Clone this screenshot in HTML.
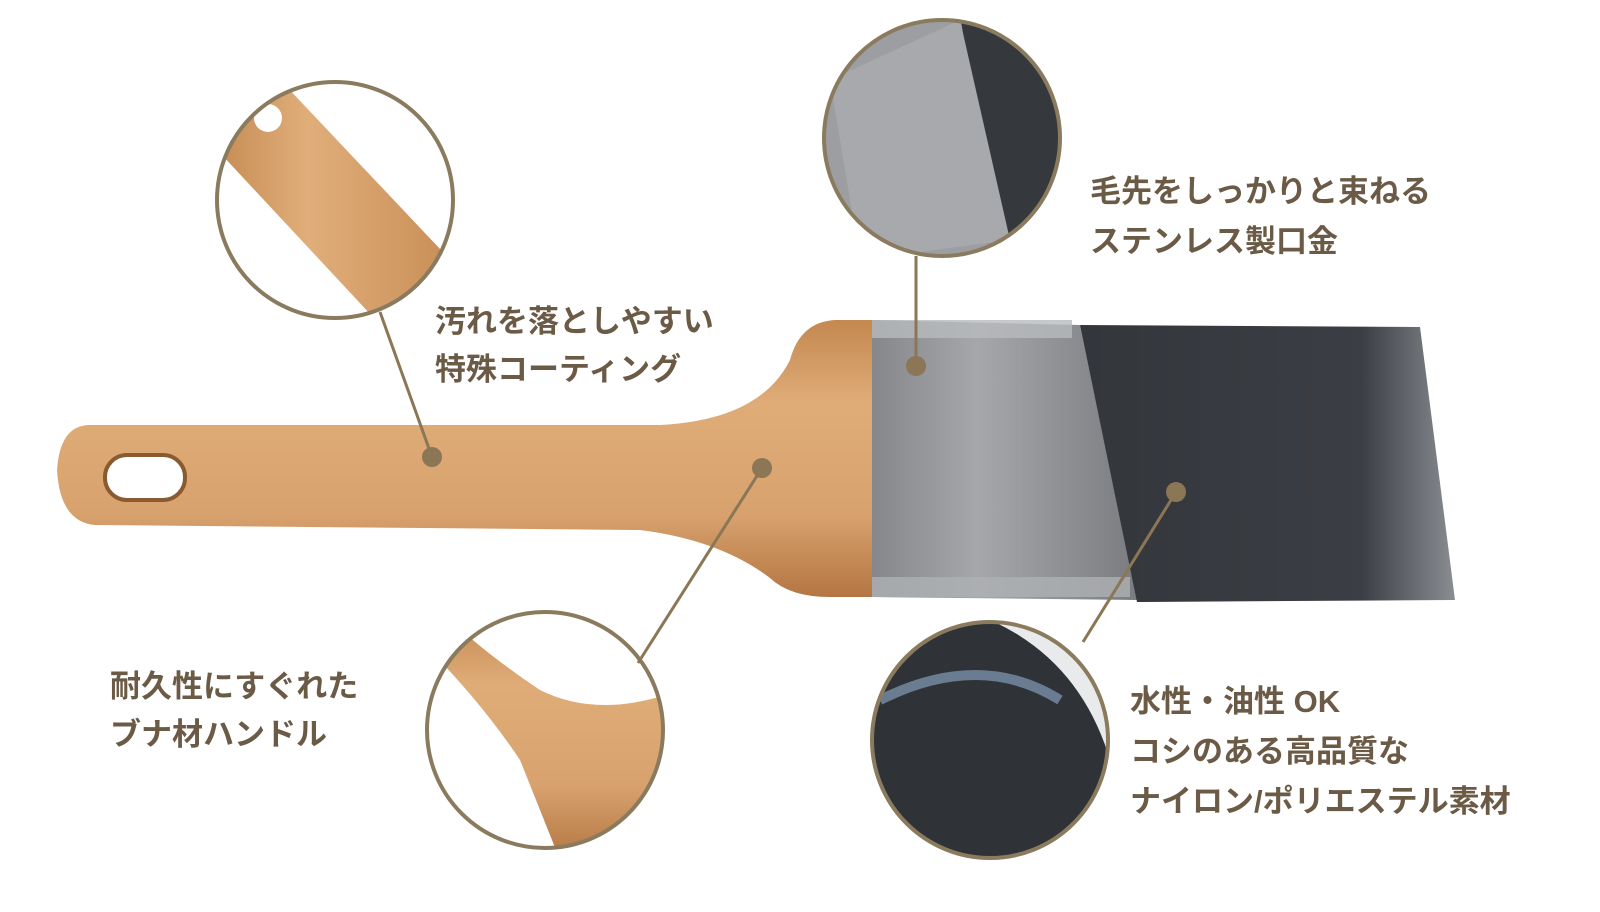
<!DOCTYPE html>
<html><head><meta charset="utf-8"><style>
html,body{margin:0;padding:0;background:#fff;}
svg{display:block;}
text{font-family:"Liberation Sans","Noto Sans CJK JP",sans-serif;font-weight:bold;fill:#6b5a45;font-size:31px;}
</style></head><body>
<svg width="1600" height="912" viewBox="0 0 1600 912" xmlns="http://www.w3.org/2000/svg">
<defs>
<linearGradient id="wood" x1="0" y1="0" x2="0" y2="1">
<stop offset="0" stop-color="#c48850"/><stop offset="0.3" stop-color="#dfac78"/><stop offset="0.7" stop-color="#d8a26e"/><stop offset="1" stop-color="#b47642"/>
</linearGradient>
<linearGradient id="wood2" x1="0" y1="0" x2="1" y2="0">
<stop offset="0" stop-color="#c48850"/><stop offset="0.4" stop-color="#e0ae7a"/><stop offset="1" stop-color="#c88c55"/>
</linearGradient>
<linearGradient id="metal" x1="0" y1="0" x2="1" y2="0">
<stop offset="0" stop-color="#85878b"/><stop offset="0.4" stop-color="#a5a7aa"/><stop offset="1" stop-color="#7a7c80"/>
</linearGradient>
<linearGradient id="bristle" x1="0" y1="0" x2="1" y2="0">
<stop offset="0" stop-color="#33363b"/><stop offset="0.75" stop-color="#3b3e44"/><stop offset="1" stop-color="#8a8d92"/>
</linearGradient>
<clipPath id="c1"><circle cx="335" cy="200" r="118"/></clipPath>
<clipPath id="c2"><circle cx="942" cy="138" r="118"/></clipPath>
<clipPath id="c3"><circle cx="545" cy="730" r="118"/></clipPath>
<clipPath id="c4"><circle cx="990" cy="740" r="118"/></clipPath>
</defs>

<path d="M90 425 Q60 425 57 470 Q60 522 95 525 L640 530 Q720 540 770 578 Q790 597 830 597 L875 597 L875 320 L835 320 Q800 322 790 360 Q760 420 660 425 Z" fill="url(#wood)"/>
<rect x="105" y="455" width="80" height="45" rx="22" fill="#fff" stroke="#8a5a30" stroke-width="4"/>
<path d="M872 320 L1080 325 L1137 600 L872 597 Z" fill="url(#metal)"/>
<rect x="872" y="320" width="200" height="18" fill="#b8babd" opacity="0.8"/>
<rect x="872" y="577" width="258" height="20" fill="#aeb0b3" opacity="0.8"/>
<path d="M1080 325 L1420 327 L1455 600 L1137 602 Z" fill="url(#bristle)"/>

<g clip-path="url(#c1)">
<rect x="200" y="70" width="280" height="260" fill="#fff"/>
<path d="M208 140 L285 85 L458 268 L385 330 Z" fill="url(#wood2)"/>
<circle cx="268" cy="118" r="14" fill="#fff"/>
</g>
<circle cx="335" cy="200" r="118" fill="none" stroke="#8b7b5e" stroke-width="4"/>

<g clip-path="url(#c2)">
<rect x="820" y="15" width="250" height="250" fill="#9c9ea2"/>
<path d="M960 15 L1070 15 L1070 260 L1000 260 Z" fill="#35383d"/>
<path d="M830 80 L960 20 L1010 240 L860 260 Z" fill="#a7a9ac"/>
</g>
<circle cx="942" cy="138" r="118" fill="none" stroke="#8b7b5e" stroke-width="4"/>

<g clip-path="url(#c3)">
<rect x="420" y="605" width="250" height="250" fill="#fff"/>
<path d="M420 640 Q480 700 520 760 L560 860 L680 860 L680 690 Q600 720 540 690 Q480 650 440 610 Z" fill="url(#wood)"/>
</g>
<circle cx="545" cy="730" r="118" fill="none" stroke="#8b7b5e" stroke-width="4"/>

<g clip-path="url(#c4)">
<rect x="870" y="620" width="240" height="240" fill="#2f3237"/>
<path d="M990 620 Q1080 660 1110 760 L1110 620 Z" fill="#e9eaec"/>
<path d="M880 700 Q980 650 1060 700" stroke="#6a7c92" stroke-width="10" fill="none"/>
</g>
<circle cx="990" cy="740" r="118" fill="none" stroke="#8b7b5e" stroke-width="4"/>

<g stroke="#8b7656" stroke-width="3" fill="#8b7656">
<line x1="432" y1="457" x2="380" y2="312"/>
<line x1="916" y1="366" x2="916" y2="256"/>
<line x1="762" y1="468" x2="638" y2="663"/>
<line x1="1176" y1="492" x2="1083" y2="642"/>
<circle cx="432" cy="457" r="10" stroke="none"/>
<circle cx="916" cy="366" r="10" stroke="none"/>
<circle cx="762" cy="468" r="10" stroke="none"/>
<circle cx="1176" cy="492" r="10" stroke="none"/>
</g>

<text x="435" y="332">汚れを落としやすい</text>
<text x="435" y="380">特殊コーティング</text>
<text x="1090" y="202">毛先をしっかりと束ねる</text>
<text x="1090" y="252">ステンレス製口金</text>
<text x="110" y="697">耐久性にすぐれた</text>
<text x="110" y="745">ブナ材ハンドル</text>
<text x="1130" y="712">水性・油性 OK</text>
<text x="1130" y="762">コシのある高品質な</text>
<text x="1130" y="812">ナイロン/ポリエステル素材</text>
</svg>
</body></html>
